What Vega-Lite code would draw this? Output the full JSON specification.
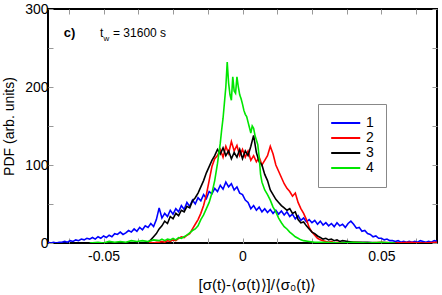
{
"$schema": "https://vega.github.io/schema/vega-lite/v6.json",
"width": 389, "height": 234,
"autosize": "none",
"padding": {"left": 48, "top": 9, "right": 5, "bottom": 52},
"background": "white",
"config": {
  "font": "Liberation Sans",
  "view": {"stroke": "black", "strokeWidth": 2},
  "axis": {"grid": false, "domain": false, "tickSize": -5, "tickColor": "#999", "tickWidth": 1,
           "labelFont": "Liberation Sans", "labelFontSize": 14, "labelColor": "black",
           "titleFont": "Liberation Sans", "titleFontSize": 14, "titleFontWeight": "normal", "titleColor": "black"}
},
"datasets": {
 "pdf": [
{"k":"1","x":-0.07,"y":1},{"k":"1","x":-0.069,"y":0},{"k":"1","x":-0.068,"y":1},{"k":"1","x":-0.067,"y":0},{"k":"1","x":-0.066,"y":1},{"k":"1","x":-0.065,"y":1},{"k":"1","x":-0.064,"y":2},{"k":"1","x":-0.063,"y":1},{"k":"1","x":-0.062,"y":3},{"k":"1","x":-0.061,"y":2},{"k":"1","x":-0.06,"y":4},
{"k":"1","x":-0.059,"y":3},{"k":"1","x":-0.058,"y":5},{"k":"1","x":-0.057,"y":4},{"k":"1","x":-0.056,"y":6},{"k":"1","x":-0.055,"y":5},{"k":"1","x":-0.054,"y":7},{"k":"1","x":-0.053,"y":5},{"k":"1","x":-0.052,"y":8},{"k":"1","x":-0.051,"y":6},{"k":"1","x":-0.05,"y":9},
{"k":"1","x":-0.049,"y":7},{"k":"1","x":-0.048,"y":10},{"k":"1","x":-0.047,"y":8},{"k":"1","x":-0.046,"y":12},{"k":"1","x":-0.045,"y":11},{"k":"1","x":-0.044,"y":14},{"k":"1","x":-0.043,"y":11},{"k":"1","x":-0.042,"y":13},{"k":"1","x":-0.041,"y":16},{"k":"1","x":-0.04,"y":14},
{"k":"1","x":-0.039,"y":18},{"k":"1","x":-0.038,"y":15},{"k":"1","x":-0.037,"y":20},{"k":"1","x":-0.036,"y":17},{"k":"1","x":-0.035,"y":22},{"k":"1","x":-0.034,"y":20},{"k":"1","x":-0.033,"y":25},{"k":"1","x":-0.032,"y":21},{"k":"1","x":-0.031,"y":30},{"k":"1","x":-0.03,"y":45},
{"k":"1","x":-0.029,"y":32},{"k":"1","x":-0.028,"y":38},{"k":"1","x":-0.027,"y":34},{"k":"1","x":-0.026,"y":42},{"k":"1","x":-0.025,"y":37},{"k":"1","x":-0.024,"y":44},{"k":"1","x":-0.023,"y":40},{"k":"1","x":-0.022,"y":48},{"k":"1","x":-0.021,"y":43},{"k":"1","x":-0.02,"y":52},
{"k":"1","x":-0.019,"y":47},{"k":"1","x":-0.018,"y":55},{"k":"1","x":-0.017,"y":50},{"k":"1","x":-0.016,"y":58},{"k":"1","x":-0.015,"y":54},{"k":"1","x":-0.014,"y":62},{"k":"1","x":-0.013,"y":57},{"k":"1","x":-0.012,"y":66},{"k":"1","x":-0.011,"y":63},{"k":"1","x":-0.01,"y":70},
{"k":"1","x":-0.009,"y":66},{"k":"1","x":-0.008,"y":74},{"k":"1","x":-0.007,"y":69},{"k":"1","x":-0.006,"y":78},{"k":"1","x":-0.005,"y":72},{"k":"1","x":-0.004,"y":76},{"k":"1","x":-0.003,"y":68},{"k":"1","x":-0.002,"y":72},{"k":"1","x":-0.001,"y":64},{"k":"1","x":0,"y":62},
{"k":"1","x":0.001,"y":55},{"k":"1","x":0.002,"y":52},{"k":"1","x":0.003,"y":44},{"k":"1","x":0.004,"y":48},{"k":"1","x":0.005,"y":42},{"k":"1","x":0.006,"y":46},{"k":"1","x":0.007,"y":40},{"k":"1","x":0.008,"y":44},{"k":"1","x":0.009,"y":39},{"k":"1","x":0.01,"y":43},
{"k":"1","x":0.011,"y":38},{"k":"1","x":0.012,"y":42},{"k":"1","x":0.013,"y":37},{"k":"1","x":0.014,"y":41},{"k":"1","x":0.015,"y":36},{"k":"1","x":0.016,"y":40},{"k":"1","x":0.017,"y":34},{"k":"1","x":0.018,"y":37},{"k":"1","x":0.019,"y":31},{"k":"1","x":0.02,"y":35},
{"k":"1","x":0.021,"y":29},{"k":"1","x":0.022,"y":32},{"k":"1","x":0.023,"y":27},{"k":"1","x":0.024,"y":30},{"k":"1","x":0.025,"y":26},{"k":"1","x":0.026,"y":29},{"k":"1","x":0.027,"y":24},{"k":"1","x":0.028,"y":28},{"k":"1","x":0.029,"y":23},{"k":"1","x":0.03,"y":26},
{"k":"1","x":0.031,"y":22},{"k":"1","x":0.032,"y":25},{"k":"1","x":0.033,"y":21},{"k":"1","x":0.034,"y":26},{"k":"1","x":0.035,"y":22},{"k":"1","x":0.036,"y":24},{"k":"1","x":0.037,"y":20},{"k":"1","x":0.038,"y":25},{"k":"1","x":0.039,"y":28},{"k":"1","x":0.04,"y":24},
{"k":"1","x":0.041,"y":19},{"k":"1","x":0.042,"y":20},{"k":"1","x":0.043,"y":15},{"k":"1","x":0.044,"y":16},{"k":"1","x":0.045,"y":12},{"k":"1","x":0.046,"y":11},{"k":"1","x":0.047,"y":8},{"k":"1","x":0.048,"y":9},{"k":"1","x":0.049,"y":6},{"k":"1","x":0.05,"y":6},
{"k":"1","x":0.051,"y":4},{"k":"1","x":0.052,"y":5},{"k":"1","x":0.053,"y":3},{"k":"1","x":0.054,"y":3},{"k":"1","x":0.055,"y":2},{"k":"1","x":0.056,"y":3},{"k":"1","x":0.057,"y":1},{"k":"1","x":0.058,"y":2},{"k":"1","x":0.059,"y":1},{"k":"1","x":0.06,"y":2},
{"k":"1","x":0.061,"y":1},{"k":"1","x":0.062,"y":2},{"k":"1","x":0.063,"y":1},{"k":"1","x":0.064,"y":3},{"k":"1","x":0.065,"y":2},{"k":"1","x":0.066,"y":1},{"k":"1","x":0.067,"y":2},{"k":"1","x":0.068,"y":1},{"k":"1","x":0.069,"y":3},{"k":"1","x":0.07,"y":2},

{"k":"2","x":-0.035,"y":0},{"k":"2","x":-0.034,"y":0},{"k":"2","x":-0.033,"y":1},{"k":"2","x":-0.032,"y":0},{"k":"2","x":-0.031,"y":1},{"k":"2","x":-0.03,"y":1},{"k":"2","x":-0.029,"y":2},{"k":"2","x":-0.028,"y":1},{"k":"2","x":-0.027,"y":3},{"k":"2","x":-0.026,"y":2},{"k":"2","x":-0.025,"y":4},{"k":"2","x":-0.024,"y":3},{"k":"2","x":-0.023,"y":6},{"k":"2","x":-0.022,"y":8},{"k":"2","x":-0.021,"y":7},{"k":"2","x":-0.02,"y":10},
{"k":"2","x":-0.019,"y":12},{"k":"2","x":-0.018,"y":18},{"k":"2","x":-0.017,"y":24},{"k":"2","x":-0.016,"y":30},{"k":"2","x":-0.015,"y":38},{"k":"2","x":-0.014,"y":48},{"k":"2","x":-0.013,"y":62},{"k":"2","x":-0.012,"y":80},{"k":"2","x":-0.011,"y":98},{"k":"2","x":-0.01,"y":108},
{"k":"2","x":-0.009,"y":112},{"k":"2","x":-0.008,"y":120},{"k":"2","x":-0.007,"y":110},{"k":"2","x":-0.006,"y":124},{"k":"2","x":-0.005,"y":115},{"k":"2","x":-0.004,"y":130},{"k":"2","x":-0.003,"y":118},{"k":"2","x":-0.002,"y":125},{"k":"2","x":-0.001,"y":112},{"k":"2","x":0,"y":120},
{"k":"2","x":0.001,"y":110},{"k":"2","x":0.002,"y":118},{"k":"2","x":0.003,"y":106},{"k":"2","x":0.004,"y":112},{"k":"2","x":0.005,"y":104},{"k":"2","x":0.006,"y":110},{"k":"2","x":0.007,"y":100},{"k":"2","x":0.008,"y":106},{"k":"2","x":0.009,"y":112},{"k":"2","x":0.01,"y":124},
{"k":"2","x":0.011,"y":114},{"k":"2","x":0.012,"y":100},{"k":"2","x":0.013,"y":92},{"k":"2","x":0.014,"y":84},{"k":"2","x":0.015,"y":76},{"k":"2","x":0.016,"y":70},{"k":"2","x":0.017,"y":66},{"k":"2","x":0.018,"y":60},{"k":"2","x":0.019,"y":64},{"k":"2","x":0.02,"y":52},
{"k":"2","x":0.021,"y":44},{"k":"2","x":0.022,"y":38},{"k":"2","x":0.023,"y":30},{"k":"2","x":0.024,"y":20},{"k":"2","x":0.025,"y":14},{"k":"2","x":0.026,"y":10},{"k":"2","x":0.027,"y":6},{"k":"2","x":0.028,"y":4},{"k":"2","x":0.029,"y":3},{"k":"2","x":0.03,"y":2},
{"k":"2","x":0.031,"y":1},{"k":"2","x":0.032,"y":2},{"k":"2","x":0.033,"y":0},{"k":"2","x":0.034,"y":1},{"k":"2","x":0.036,"y":0},{"k":"2","x":0.04,"y":1},{"k":"2","x":0.045,"y":0},{"k":"2","x":0.05,"y":1},{"k":"2","x":0.055,"y":0},{"k":"2","x":0.06,"y":1},{"k":"2","x":0.065,"y":0},{"k":"2","x":0.07,"y":1},

{"k":"3","x":-0.036,"y":0},{"k":"3","x":-0.035,"y":1},{"k":"3","x":-0.034,"y":1},{"k":"3","x":-0.033,"y":4},{"k":"3","x":-0.032,"y":8},{"k":"3","x":-0.031,"y":12},{"k":"3","x":-0.03,"y":18},{"k":"3","x":-0.029,"y":22},{"k":"3","x":-0.028,"y":28},{"k":"3","x":-0.027,"y":25},
{"k":"3","x":-0.026,"y":34},{"k":"3","x":-0.025,"y":31},{"k":"3","x":-0.024,"y":38},{"k":"3","x":-0.023,"y":35},{"k":"3","x":-0.022,"y":42},{"k":"3","x":-0.021,"y":40},{"k":"3","x":-0.02,"y":47},{"k":"3","x":-0.019,"y":45},{"k":"3","x":-0.018,"y":54},{"k":"3","x":-0.017,"y":58},
{"k":"3","x":-0.016,"y":64},{"k":"3","x":-0.015,"y":72},{"k":"3","x":-0.014,"y":80},{"k":"3","x":-0.013,"y":90},{"k":"3","x":-0.012,"y":98},{"k":"3","x":-0.011,"y":106},{"k":"3","x":-0.01,"y":112},{"k":"3","x":-0.009,"y":120},{"k":"3","x":-0.008,"y":114},{"k":"3","x":-0.007,"y":122},
{"k":"3","x":-0.006,"y":112},{"k":"3","x":-0.005,"y":118},{"k":"3","x":-0.004,"y":108},{"k":"3","x":-0.003,"y":116},{"k":"3","x":-0.002,"y":110},{"k":"3","x":-0.001,"y":120},{"k":"3","x":0,"y":108},{"k":"3","x":0.001,"y":118},{"k":"3","x":0.002,"y":112},{"k":"3","x":0.003,"y":124},
{"k":"3","x":0.004,"y":138},{"k":"3","x":0.005,"y":116},{"k":"3","x":0.006,"y":104},{"k":"3","x":0.007,"y":100},{"k":"3","x":0.008,"y":88},{"k":"3","x":0.009,"y":80},{"k":"3","x":0.01,"y":68},{"k":"3","x":0.011,"y":62},{"k":"3","x":0.012,"y":56},{"k":"3","x":0.013,"y":52},
{"k":"3","x":0.014,"y":48},{"k":"3","x":0.015,"y":45},{"k":"3","x":0.016,"y":42},{"k":"3","x":0.017,"y":44},{"k":"3","x":0.018,"y":38},{"k":"3","x":0.019,"y":40},{"k":"3","x":0.02,"y":30},{"k":"3","x":0.021,"y":26},{"k":"3","x":0.022,"y":27},{"k":"3","x":0.023,"y":22},
{"k":"3","x":0.024,"y":18},{"k":"3","x":0.025,"y":14},{"k":"3","x":0.026,"y":12},{"k":"3","x":0.027,"y":9},{"k":"3","x":0.028,"y":7},{"k":"3","x":0.029,"y":5},{"k":"3","x":0.03,"y":6},{"k":"3","x":0.031,"y":4},{"k":"3","x":0.032,"y":5},{"k":"3","x":0.033,"y":3},
{"k":"3","x":0.034,"y":4},{"k":"3","x":0.035,"y":2},{"k":"3","x":0.036,"y":3},{"k":"3","x":0.038,"y":2},{"k":"3","x":0.04,"y":1},{"k":"3","x":0.045,"y":1},{"k":"3","x":0.05,"y":0},

{"k":"4","x":-0.055,"y":0},{"k":"4","x":-0.052,"y":1},{"k":"4","x":-0.05,"y":0},{"k":"4","x":-0.048,"y":2},{"k":"4","x":-0.046,"y":1},{"k":"4","x":-0.044,"y":2},{"k":"4","x":-0.042,"y":1},{"k":"4","x":-0.04,"y":3},{"k":"4","x":-0.038,"y":2},{"k":"4","x":-0.036,"y":3},
{"k":"4","x":-0.034,"y":2},{"k":"4","x":-0.032,"y":4},{"k":"4","x":-0.03,"y":3},{"k":"4","x":-0.029,"y":5},{"k":"4","x":-0.028,"y":3},{"k":"4","x":-0.027,"y":5},{"k":"4","x":-0.026,"y":4},{"k":"4","x":-0.025,"y":6},{"k":"4","x":-0.024,"y":4},{"k":"4","x":-0.023,"y":7},
{"k":"4","x":-0.022,"y":6},{"k":"4","x":-0.021,"y":8},{"k":"4","x":-0.02,"y":10},{"k":"4","x":-0.019,"y":13},{"k":"4","x":-0.018,"y":16},{"k":"4","x":-0.017,"y":18},{"k":"4","x":-0.016,"y":22},{"k":"4","x":-0.015,"y":30},{"k":"4","x":-0.014,"y":36},{"k":"4","x":-0.013,"y":44},
{"k":"4","x":-0.012,"y":52},{"k":"4","x":-0.011,"y":64},{"k":"4","x":-0.01,"y":80},{"k":"4","x":-0.009,"y":102},{"k":"4","x":-0.008,"y":128},{"k":"4","x":-0.0075,"y":145},{"k":"4","x":-0.007,"y":160},{"k":"4","x":-0.0065,"y":180},{"k":"4","x":-0.006,"y":200},{"k":"4","x":-0.0055,"y":232},
{"k":"4","x":-0.005,"y":205},{"k":"4","x":-0.0045,"y":190},{"k":"4","x":-0.004,"y":183},{"k":"4","x":-0.0035,"y":213},{"k":"4","x":-0.003,"y":195},{"k":"4","x":-0.0025,"y":192},{"k":"4","x":-0.002,"y":213},{"k":"4","x":-0.0015,"y":200},{"k":"4","x":-0.001,"y":190},{"k":"4","x":-0.0005,"y":185},
{"k":"4","x":0,"y":178},{"k":"4","x":0.0005,"y":170},{"k":"4","x":0.001,"y":165},{"k":"4","x":0.0015,"y":162},{"k":"4","x":0.002,"y":155},{"k":"4","x":0.0025,"y":148},{"k":"4","x":0.003,"y":141},{"k":"4","x":0.0035,"y":150},{"k":"4","x":0.004,"y":147},{"k":"4","x":0.0045,"y":138},
{"k":"4","x":0.005,"y":132},{"k":"4","x":0.0055,"y":126},{"k":"4","x":0.006,"y":110},{"k":"4","x":0.0065,"y":88},{"k":"4","x":0.007,"y":78},{"k":"4","x":0.008,"y":68},{"k":"4","x":0.009,"y":62},{"k":"4","x":0.01,"y":55},{"k":"4","x":0.011,"y":46},{"k":"4","x":0.012,"y":40},
{"k":"4","x":0.013,"y":32},{"k":"4","x":0.014,"y":26},{"k":"4","x":0.015,"y":21},{"k":"4","x":0.016,"y":18},{"k":"4","x":0.017,"y":14},{"k":"4","x":0.018,"y":11},{"k":"4","x":0.019,"y":8},{"k":"4","x":0.02,"y":6},{"k":"4","x":0.021,"y":4},{"k":"4","x":0.022,"y":3},
{"k":"4","x":0.024,"y":2},{"k":"4","x":0.026,"y":1},{"k":"4","x":0.03,"y":1},{"k":"4","x":0.035,"y":0},{"k":"4","x":0.04,"y":1},{"k":"4","x":0.045,"y":0},{"k":"4","x":0.05,"y":1},{"k":"4","x":0.055,"y":0}
 ]
},
"layer": [
 {
  "data": {"name": "pdf"},
  "mark": {"type": "line", "strokeWidth": 1.6, "clip": true},
  "encoding": {
   "x": {"field": "x", "type": "quantitative",
         "scale": {"domain": [-0.07, 0.07], "nice": false, "zero": false},
         "axis": {"orient": "bottom", "title": "[σ(t)-⟨σ(t)⟩]/⟨σ₀(t)⟩",
                  "values": [-0.0625,-0.05,-0.0375,-0.025,-0.0125,0,0.0125,0.025,0.0375,0.05,0.0625],
                  "labelExpr": "datum.value == -0.05 ? '-0.05' : datum.value == 0 ? '0' : datum.value == 0.05 ? '0.05' : ''",
                  "labelPadding": 11, "titlePadding": 14, "titleFontSize": 15, "titleX": 209, "titleAlign": "center"}},
   "y": {"field": "y", "type": "quantitative",
         "scale": {"domain": [0, 300], "nice": false},
         "axis": {"orient": "left", "title": "PDF (arb. units)",
                  "values": [0,50,100,150,200,250,300],
                  "labelExpr": "datum.value % 100 == 0 ? datum.label : ''",
                  "labelPadding": 5, "titlePadding": 8}},
   "color": {"field": "k", "type": "nominal",
             "scale": {"domain": ["1","2","3","4"], "range": ["#0000ff","#ff0000","#000000","#00e600"]},
             "legend": {"title": null, "orient": "none", "legendX": 270, "legendY": 95,
                        "symbolType": "M-1,0H4", "symbolSize": 135, "symbolStrokeWidth": 2,
                        "labelFontSize": 14, "labelFont": "Liberation Sans", "labelColor": "black", "labelOffset": 22,
                        "strokeColor": "#888", "fillColor": "white", "padding": 12, "rowPadding": 1}}
  }
 },
 {
  "data": {"name": "pdf"},
  "mark": {"type": "point", "opacity": 0},
  "encoding": {
   "x": {"field": "x", "type": "quantitative",
         "scale": {"domain": [-0.07, 0.07], "nice": false, "zero": false},
         "axis": {"orient": "top", "title": null, "labels": false,
                  "values": [-0.0625,-0.05,-0.0375,-0.025,-0.0125,0,0.0125,0.025,0.0375,0.05,0.0625]}},
   "y": {"field": "y", "type": "quantitative",
         "scale": {"domain": [0, 300], "nice": false},
         "axis": {"orient": "right", "title": null, "labels": false, "values": [0,50,100,150,200,250,300]}}
  }
 },
 {
  "data": {"values": [{"x": -0.0643, "y": 269, "t": "c)"}]},
  "mark": {"type": "text", "align": "left", "baseline": "middle", "fontSize": 13, "fontWeight": "bold", "font": "Liberation Sans"},
  "encoding": {"x": {"field": "x", "type": "quantitative", "axis": null}, "y": {"field": "y", "type": "quantitative", "axis": null}, "text": {"field": "t"}}
 },
 {
  "data": {"values": [{"x": -0.0513, "y": 269, "t": "t"}]},
  "mark": {"type": "text", "align": "left", "baseline": "middle", "fontSize": 12, "font": "Liberation Sans"},
  "encoding": {"x": {"field": "x", "type": "quantitative", "axis": null}, "y": {"field": "y", "type": "quantitative", "axis": null}, "text": {"field": "t"}}
 },
 {
  "data": {"values": [{"x": -0.0500, "y": 261, "t": "w"}]},
  "mark": {"type": "text", "align": "left", "baseline": "middle", "fontSize": 8, "font": "Liberation Sans"},
  "encoding": {"x": {"field": "x", "type": "quantitative", "axis": null}, "y": {"field": "y", "type": "quantitative", "axis": null}, "text": {"field": "t"}}
 },
 {
  "data": {"values": [{"x": -0.0466, "y": 269, "t": "= 31600 s"}]},
  "mark": {"type": "text", "align": "left", "baseline": "middle", "fontSize": 12, "font": "Liberation Sans"},
  "encoding": {"x": {"field": "x", "type": "quantitative", "axis": null}, "y": {"field": "y", "type": "quantitative", "axis": null}, "text": {"field": "t"}}
 }
],
"resolve": {"axis": {"x": "independent", "y": "independent"}}
}
